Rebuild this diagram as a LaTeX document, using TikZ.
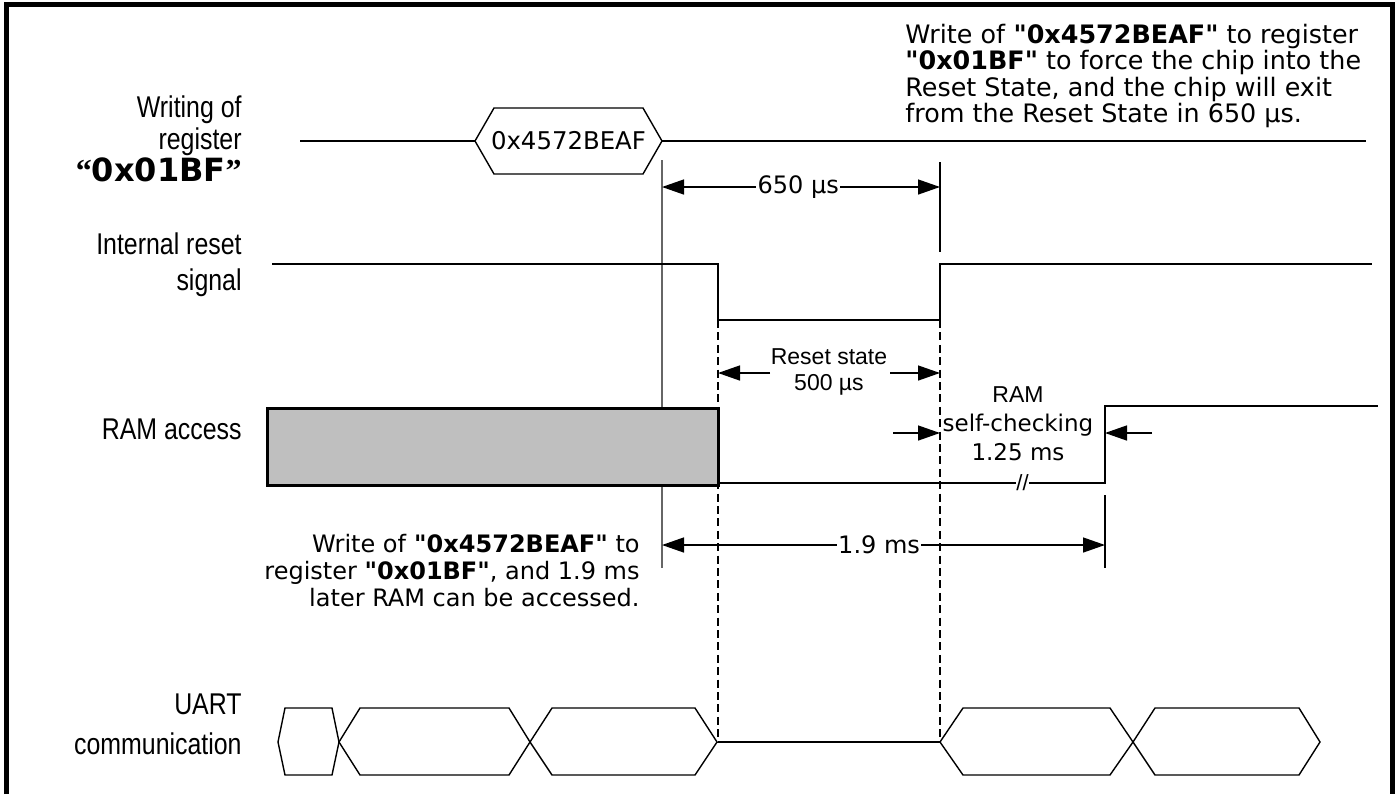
\documentclass[tikz,border=0pt]{standalone}
\usepackage{fontspec}
\setmainfont{Liberation Sans}
\newfontfamily\nf[FakeStretch=0.83]{Liberation Sans}
\newfontfamily\vf{DejaVu Sans}
\newfontfamily\qf{Liberation Serif}
\usetikzlibrary{arrows.meta}
\tikzset{
  sig/.style={line width=0.7pt, black},
  marker/.style={line width=0.7pt, black},
  gmarker/.style={line width=0.75pt, black!60},
  dashv/.style={line width=0.6pt, black, dash pattern=on 4pt off 2.2pt},
  tip/.tip={Triangle[length=11pt,width=7.5pt]},
  dimboth/.style={line width=0.7pt, tip-tip},
  dimone/.style={line width=0.7pt, -tip},
  lbl/.style={align=right, anchor=east, inner sep=0pt, font=\nf\fontsize{15}{16}\selectfont},
  note/.style={inner sep=0pt, font=\vf\fontsize{11.5}{14}\selectfont},
  bignote/.style={inner sep=0pt, font=\vf\fontsize{12.7}{13.2}\selectfont},
  arl/.style={inner sep=0pt, font=\fontsize{11.5}{14}\selectfont},
  gap/.style={fill=white, inner sep=0.6pt}
}
\begin{document}
\begin{tikzpicture}[x=0.5pt,y=-0.5pt]
\useasboundingbox (0,0) rectangle (1399,794);
% frame
\draw[line width=2.6pt] (6.5,794) -- (6.5,4.5) -- (1392.5,4.5) -- (1392.5,794);

% ---------- labels
\node[lbl] (lw) at (242,139) {Writing of\\register\\{\vf\bfseries\fontsize{16}{16}\selectfont{\qf\bfseries“}0x01BF{\qf\bfseries”}}};
\node[lbl, font=\nf\fontsize{15}{18}\selectfont] (li) at (242,265) {Internal reset\\signal};
\node[lbl] (lr) at (242,429) {RAM access};
\node[lbl, font=\nf\fontsize{15}{20}\selectfont] (lu) at (242,724) {UART\\communication};

% ---------- row 1: register write
\coordinate (w0) at (300,141);
\coordinate (w1) at (475,141);
\coordinate (w2) at (662,141);
\coordinate (w3) at (1366,141);
\draw[sig] (w0) -- (w1);
\draw[sig] (w2) -- (w3);
\draw[sig] (w1) -- (494,108) -- (643,108) -- (w2) -- (643,174) -- (494,174) -- cycle;
\node[note, font=\vf\fontsize{12.2}{14}\selectfont] (hx) at (568.5,141) {0x4572BEAF};

\node[bignote, align=left, anchor=west] (n1) at (905,76)
 {Write of \textbf{"0x4572BEAF"} to register\\
  \textbf{"0x01BF"} to force the chip into the\\
  Reset State, and the chip will exit\\
  from the Reset State in 650 µs.};

% ---------- markers
\coordinate (m1t) at (662,160);
\coordinate (m1b) at (662,568);
\draw[gmarker] (m1t) -- (m1b);
\coordinate (m2t) at (940,162);
\coordinate (m2b) at (940,252);
\draw[marker] (m2t) -- (m2b);
\coordinate (a1) at (662,187);
\coordinate (a2) at (940,187);
\draw[dimboth] (a1) -- node[gap, pos=0.49, font=\vf\fontsize{12}{14}\selectfont] (t650) {650 µs} (a2);

% ---------- internal reset signal
\coordinate (r0) at (272,264);
\coordinate (r1) at (718,264);
\coordinate (r2) at (718,320);
\coordinate (r3) at (940,320);
\coordinate (r4) at (940,264);
\coordinate (r5) at (1372,264);
\draw[sig] (r0) -- (r1) -- (r2) -- (r3) -- (r4) -- (r5);

% dashed guides
\coordinate (d1b) at (718,742);
\coordinate (d2b) at (940,742);
\draw[dashv] (r2) -- (d1b);
\draw[dashv] (r3) -- (d2b);

% reset state
\node[arl] (rs1) at (829,357) {Reset state};
\node[arl] (rs2) at (829,385) {500 µs};
\coordinate (rsa) at (770,373);
\coordinate (rsb) at (890,373);
\draw[dimone] (rsa) -- (718,373);
\draw[dimone] (rsb) -- (940,373);

% ---------- RAM access
\node[draw=black, line width=1.5pt, fill=black!25, minimum width=451*0.5pt, minimum height=77*0.5pt, inner sep=0pt, anchor=north west] (ram) at (266,407) {};
\coordinate (ra0) at (718,483);
\coordinate (ra1) at (1105,483);
\coordinate (ra2) at (1105,406);
\coordinate (ra3) at (1378,406);
\draw[sig] (ra0) -- node[pos=0.787, fill=white, inner sep=0.3pt, font=\fontsize{11}{13}\selectfont] (brk) {//} (ra1) -- (ra2) -- (ra3);

\node[arl] (sc1) at (1018,395) {RAM};
\node[note] (sc2) at (1018,425) {self-checking};
\node[note] (sc3) at (1018,452) {1.25 ms};
\coordinate (sca) at (893,433);
\coordinate (scb) at (1152,433);
\draw[dimone] (sca) -- (940,433);
\draw[dimone] (scb) -- (1105,433);

% ---------- 1.9 ms
\coordinate (m3t) at (1105,495);
\coordinate (m3b) at (1105,568);
\draw[marker] (m3t) -- (m3b);
\coordinate (b1) at (662,545);
\coordinate (b2) at (1105,545);
\draw[dimboth] (b1) -- node[gap, pos=0.49, font=\vf\fontsize{12}{14}\selectfont] (t19) {1.9 ms} (b2);

\node[note, font=\vf\fontsize{12}{13.5}\selectfont, align=right, anchor=east] (n2) at (640,571)
 {Write of \textbf{"0x4572BEAF"} to\\
  register \textbf{"0x01BF"}, and 1.9 ms\\
  later RAM can be accessed.};

% ---------- UART
\draw[sig] (278,742) -- (285,708) -- (332,708) -- (339,742) -- (332,775) -- (285,775) -- cycle;
\draw[sig] (339,742) -- (360,708) -- (509,708) -- (530,742) -- (509,775) -- (360,775) -- cycle;
\draw[sig] (530,742) -- (552,708) -- (695,708) -- (717,742) -- (695,775) -- (552,775) -- cycle;
\draw[sig] (d1b) -- (d2b);
\draw[sig] (940,742) -- (963,708) -- (1110,708) -- (1133,742) -- (1110,775) -- (963,775) -- cycle;
\draw[sig] (1133,742) -- (1155,708) -- (1299,708) -- (1320,742) -- (1299,775) -- (1155,775) -- cycle;
\end{tikzpicture}
\end{document}
